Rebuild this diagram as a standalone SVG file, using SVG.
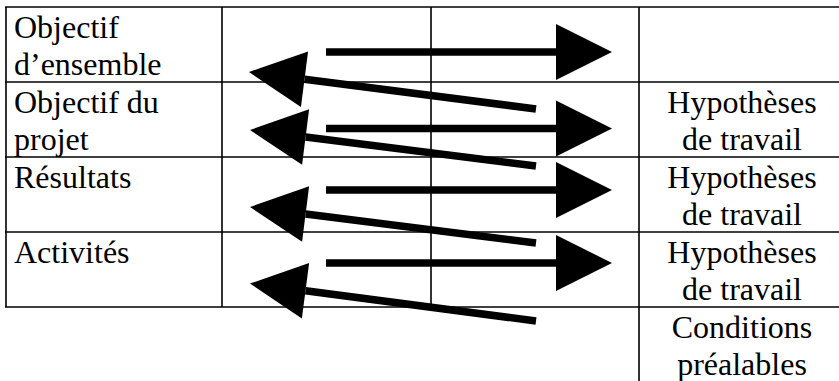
<svg xmlns="http://www.w3.org/2000/svg" width="839" height="381" viewBox="0 0 839 381">
<style>
.grid{stroke:#000;stroke-width:1.6;fill:none}
text{font-family:'Liberation Serif','Times New Roman','DejaVu Serif',serif;font-size:32px;fill:#000}
.c{text-anchor:middle}
.arr{stroke:#000;stroke-width:7.5;fill:none;marker-end:url(#head)}
</style>
<defs>
<marker id="head" markerUnits="userSpaceOnUse" viewBox="0 -28 56 56" markerWidth="56" markerHeight="56" refX="0" refY="0" orient="auto" overflow="visible">
<path d="M0,-28 L56,0 L0,28 Z" fill="#000"/>
</marker>
</defs>
<rect width="839" height="381" fill="#fff"/>
<g id="table" class="grid">
<line x1="5" y1="7" x2="839" y2="7"/>
<line x1="5" y1="82" x2="839" y2="82"/>
<line x1="5" y1="157" x2="839" y2="157"/>
<line x1="5" y1="232" x2="839" y2="232"/>
<line x1="5" y1="307" x2="839" y2="307"/>
<line x1="6" y1="7" x2="6" y2="307"/>
<line x1="222" y1="7" x2="222" y2="307"/>
<line x1="431" y1="7" x2="431" y2="307"/>
<line x1="639" y1="7" x2="639" y2="381"/>
</g>
<g id="row-objectif-ensemble" font-family="Liberation Serif, serif">
<text x="14" y="38">Objectif</text>
<text x="14" y="75">d’ensemble</text>
</g>
<g id="row-objectif-projet" font-family="Liberation Serif, serif">
<text x="14" y="113">Objectif du</text>
<text x="14" y="150">projet</text>
<text class="c" x="742" y="113">Hypothèses</text>
<text class="c" x="742" y="150">de travail</text>
</g>
<g id="row-resultats" font-family="Liberation Serif, serif">
<text x="14" y="187.5">Résultats</text>
<text class="c" x="742" y="188">Hypothèses</text>
<text class="c" x="742" y="225">de travail</text>
</g>
<g id="row-activites" font-family="Liberation Serif, serif">
<text x="14" y="262.5">Activités</text>
<text class="c" x="742" y="263">Hypothèses</text>
<text class="c" x="742" y="300">de travail</text>
</g>
<g id="conditions" font-family="Liberation Serif, serif">
<text class="c" x="742" y="338">Conditions</text>
<text class="c" x="742" y="375">préalables</text>
</g>
<g id="connectors">
<line class="arr" x1="326" y1="52" x2="556" y2="52"/>
<line class="arr" x1="326" y1="128.5" x2="556" y2="128.5"/>
<line class="arr" x1="326" y1="190" x2="556" y2="190"/>
<line class="arr" x1="326" y1="263" x2="556" y2="263"/>
<line class="arr" x1="536" y1="109" x2="304.5" y2="79.2"/>
<line class="arr" x1="536" y1="166" x2="305.6" y2="137"/>
<line class="arr" x1="536" y1="243" x2="305.6" y2="214"/>
<line class="arr" x1="536" y1="321" x2="305.5" y2="290.8"/>
</g>
</svg>
